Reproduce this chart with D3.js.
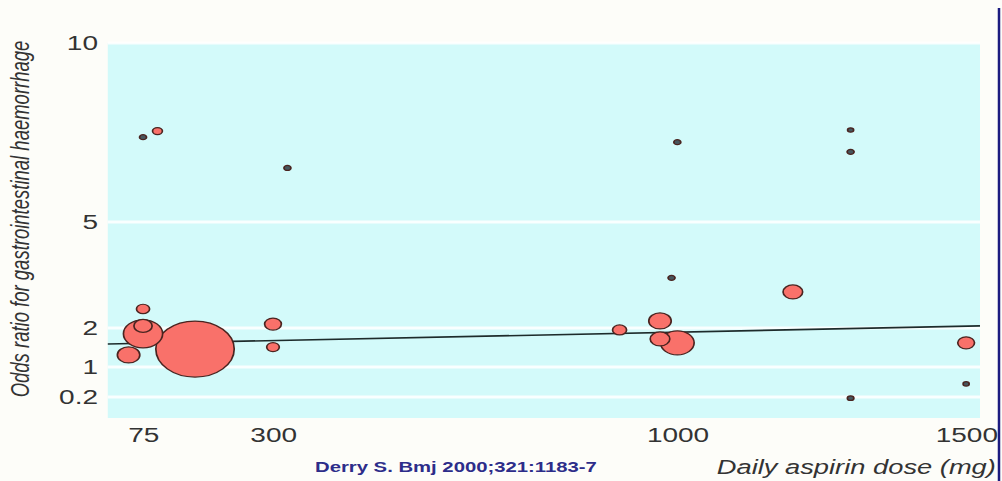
<!DOCTYPE html>
<html>
<head>
<meta charset="utf-8">
<script src="https://cdn.jsdelivr.net/npm/d3@7"></script>
<style>
  body { margin: 0; background: #fdfdf9; }
  svg { display: block; font-family: "Liberation Sans", Arial, sans-serif; }
</style>
</head>
<body>
<svg id="chart" width="1002" height="481"></svg>
<script>
// study data: daily dose (mg), odds ratio, study weight
const doses      = [75, 100, 325, 1000, 1300, 1300, 990, 1200, 1500, 1500, 1300, 75, 75, 75, 50, 165, 300, 300, 900, 970, 970, 1000];
const oddsRatios = [7.37, 7.54, 6.51, 7.23, 7.57, 6.96, 3.42, 3.02, 1.62, 0.55, 0.17, 2.54, 2.06, 1.85, 1.31, 1.46, 2.11, 1.51, 1.95, 2.2, 1.72, 1.62];
const weights    = [0.8, 1.6, 0.8, 0.8, 0.6, 0.8, 0.8, 6.25, 4.6, 0.6, 0.7, 2.8, 5.4, 25, 8.2, 100, 4.6, 2.6, 3.2, 8.2, 6.25, 18.4];

// regression line end points
const fitDose = [14, 1524];
const fitOR   = [1.59, 2.06];

const xTicks = [75, 300, 1000, 1500];
const yTicks = [0.2, 1, 2, 5, 10];

// the picture is stretched sideways, so draw in a squeezed frame
const stretch = 1.4;
const margin = {left: 77, top: 43};
const plotW = 623, plotH = 375;

const svg = d3.select("#chart");
svg.append("rect").attr("width", 1002).attr("height", 481).attr("fill", "#fdfdf9");

const outer = svg.append("g").attr("transform", `scale(${stretch},1)`);
const g = outer.append("g").attr("transform", `translate(${margin.left},${margin.top})`);

const x = d3.scaleLinear().domain([14, 1524]).range([0, plotW]);
// uneven tick spacing on the original axis
const y = d3.scaleLinear().domain(yTicks).range([354, 324, 285, 179, 0]);
const r = d3.scaleSqrt().domain([0, 100]).range([0, 28]);

// plot background
g.append("rect")
  .attr("width", plotW)
  .attr("height", plotH)
  .attr("fill", "#d3fafa");

// white grid lines
g.selectAll(".grid")
  .data(yTicks)
  .enter()
  .append("line")
  .attr("class", "grid")
  .attr("x1", 0)
  .attr("x2", plotW)
  .attr("y1", d => y(d))
  .attr("y2", d => y(d))
  .attr("stroke", "#ffffff")
  .attr("stroke-opacity", 0.85)
  .attr("stroke-width", 3);

// fitted line
const line = d3.line().x(d => x(d[0])).y(d => y(d[1]));
g.append("path")
  .datum(d3.zip(fitDose, fitOR))
  .attr("d", line)
  .attr("fill", "none")
  .attr("stroke", "#1d2b2b")
  .attr("stroke-width", 1.6);

// bubbles, biggest first
const studies = d3.range(doses.length)
  .map(i => ({dose: doses[i], or: oddsRatios[i], w: weights[i]}))
  .sort((a, b) => d3.descending(a.w, b.w));

g.selectAll(".study")
  .data(studies)
  .enter()
  .append("circle")
  .attr("class", "study")
  .attr("cx", d => x(d.dose))
  .attr("cy", d => y(d.or))
  .attr("r", d => r(d.w))
  .attr("fill", d => r(d.w) < 3 ? "#46565d" : "#f9716a")
  .attr("stroke", "#4a2420")
  .attr("stroke-width", 1.2);

// axes
const xAxis = g.append("g")
  .attr("transform", `translate(0,${plotH})`)
  .call(d3.axisBottom(x).tickValues(xTicks).tickSize(0).tickPadding(10).tickFormat(d3.format("")));
const yAxis = g.append("g")
  .call(d3.axisLeft(y).tickValues(yTicks).tickSize(0).tickPadding(7).tickFormat(d3.format("")));

[xAxis, yAxis].forEach(a => {
  a.select(".domain").remove();
  a.selectAll("text")
    .attr("font-family", "Liberation Sans, Arial, sans-serif")
    .attr("font-size", 20)
    .attr("fill", "#333333");
});

// y axis title
outer.append("text")
  .attr("transform", "translate(21,219) rotate(-90)")
  .attr("text-anchor", "middle")
  .attr("font-size", 18.5)
  .attr("font-style", "italic")
  .attr("fill", "#333333")
  .text("Odds ratio for gastrointestinal haemorrhage");

// x axis title
outer.append("text")
  .attr("x", 512)
  .attr("y", 474)
  .attr("font-size", 19.5)
  .attr("font-style", "italic")
  .attr("fill", "#333333")
  .text("Daily aspirin dose (mg)");

// source
outer.append("text")
  .attr("x", 225)
  .attr("y", 472)
  .attr("font-size", 14.5)
  .attr("font-weight", "bold")
  .attr("fill", "#2d2d8a")
  .text("Derry S. Bmj 2000;321:1183-7");

// slide edge on the right
svg.append("line")
  .attr("x1", 999).attr("x2", 999)
  .attr("y1", 8).attr("y2", 481)
  .attr("stroke", "#1b1b80")
  .attr("stroke-width", 2.5);
</script>
</body>
</html>
